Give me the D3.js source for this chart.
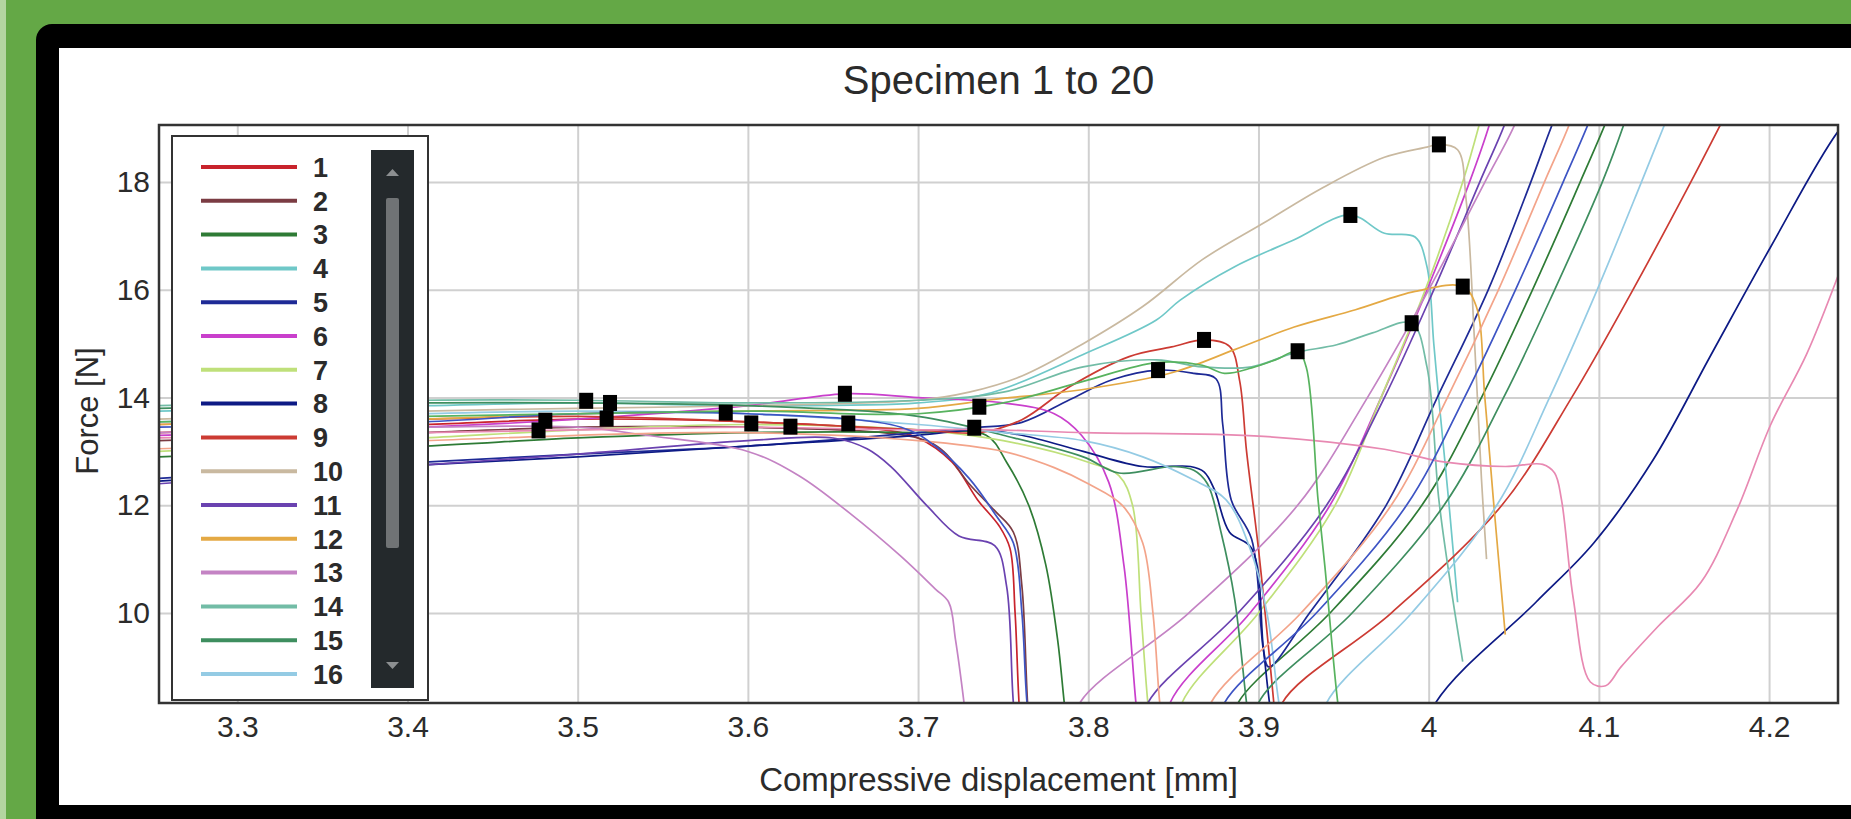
<!DOCTYPE html>
<html>
<head>
<meta charset="utf-8">
<script src="https://cdn.jsdelivr.net/npm/d3@7"></script>
<style>
  body { margin: 0; background: #64a846; }
  svg { display: block; }
  text { font-family: "Liberation Sans", Arial, sans-serif; fill: #2b2b2b; }
</style>
</head>
<body>
<div id="vis"></div>
<script>
const FRAME_WIDTH = 1851;
const FRAME_HEIGHT = 819;
const PLOT = {left: 159, right: 1838, top: 125, bottom: 703};

// tick values + labels
const xTicks = [3.3, 3.4, 3.5, 3.6, 3.7, 3.8, 3.9, 4.0, 4.1, 4.2];
const xTickLabels = ["3.3", "3.4", "3.5", "3.6", "3.7", "3.8", "3.9", "4", "4.1", "4.2"];
const yTicks = [10, 12, 14, 16, 18];
const yTickLabels = ["10", "12", "14", "16", "18"];

const specimens = ["1","2","3","4","5","6","7","8","9","10","11","12","13","14","15","16","17","18","19","20"];
const lineColors = ["#c8232c","#7b3c43","#2e7b35","#6fc8c8","#1e2a96","#c93fcc","#bfe07a","#0d1a85","#cc3b33","#c9b9a0",
                    "#6a42b0","#e4a944","#c483c4","#72bca6","#3e8e5f","#94cbe4","#f3a48a","#e889b2","#3d54c4","#58b35f"];

// curves, [displacement mm, force N]
const s1 = [[3.254,13.35],[3.41,13.5],[3.5,13.6],[3.6,13.55],[3.68,13.4],[3.7,13.25],[3.72,12.8],[3.735,12.1],[3.748,11.6],[3.754,11.2],[3.757,10.0],[3.76,8.0],[3.764,7.0]];
const s2 = [[3.254,13.2],[3.41,13.35],[3.5,13.45],[3.6,13.45],[3.7,13.25],[3.715,13.0],[3.73,12.4],[3.745,11.9],[3.756,11.5],[3.761,10.5],[3.765,8.0],[3.769,7.0]];
const s3 = [[3.254,12.9],[3.41,13.1],[3.5,13.25],[3.6,13.35],[3.7,13.35],[3.74,13.3],[3.752,12.8],[3.765,12.0],[3.775,10.9],[3.782,9.5],[3.786,8.3],[3.79,7.2],[3.84,6.5],[3.885,7.8],[3.888,8.33],[3.942,10],[3.996,12],[4.031,14],[4.061,16],[4.089,18],[4.104,19.1],[4.11,19.6]];
const s4 = [[3.254,13.75],[3.41,13.85],[3.5,13.9],[3.6,13.85],[3.7,13.9],[3.743,14.09],[3.797,14.8],[3.84,15.44],[3.854,15.81],[3.886,16.43],[3.921,16.93],[3.954,17.39],[3.974,17.05],[3.992,16.98],[3.999,16.43],[4.003,15.0],[4.006,13.96],[4.012,12.0],[4.017,10.2]];
const s5 = [[3.254,12.5],[3.41,12.8],[3.5,12.95],[3.6,13.1],[3.7,13.35],[3.733,13.44],[3.761,13.54],[3.789,13.96],[3.814,14.33],[3.841,14.51],[3.862,14.45],[3.875,14.35],[3.879,13.5],[3.884,12.1],[3.896,11.37],[3.903,9.3],[3.906,9.0],[3.93,10.0],[3.975,12],[4.005,14],[4.035,16],[4.06,18],[4.073,19.1],[4.08,19.6]];
const s6 = [[3.254,13.3],[3.41,13.45],[3.5,13.6],[3.6,13.85],[3.657,14.07],[3.7,14.0],[3.75,13.9],[3.78,13.7],[3.796,13.3],[3.812,12.43],[3.821,10.87],[3.828,8.33],[3.832,7.2],[3.842,7.0],[3.848,8.33],[3.895,10],[3.942,12],[3.972,14],[3.999,16],[4.024,18],[4.036,19.1],[4.04,19.6]];
const s7 = [[3.254,13.0],[3.41,13.25],[3.5,13.4],[3.6,13.5],[3.7,13.4],[3.75,13.2],[3.8,12.8],[3.818,12.55],[3.826,12.0],[3.831,10.0],[3.835,8.33],[3.839,7.2],[3.85,7.3],[3.855,8.33],[3.9,10],[3.945,12],[3.972,14],[3.998,16],[4.02,18],[4.03,19.1],[4.034,19.6]];
const s8 = [[3.254,12.45],[3.41,12.75],[3.5,12.9],[3.6,13.1],[3.7,13.3],[3.735,13.4],[3.761,13.3],[3.797,13.0],[3.832,12.72],[3.86,12.72],[3.868,12.62],[3.874,12.3],[3.883,11.5],[3.896,11.2],[3.903,9.3],[3.908,8.0],[3.915,7.0],[3.99,7.0],[4.004,8.33],[4.063,10.2],[4.097,11.3],[4.132,12.85],[4.166,14.8],[4.201,16.8],[4.241,18.96],[4.26,19.6]];
const s9 = [[3.254,13.5],[3.41,13.6],[3.5,13.65],[3.6,13.55],[3.7,13.4],[3.736,13.35],[3.761,13.59],[3.789,14.2],[3.824,14.76],[3.849,14.94],[3.868,15.07],[3.883,14.95],[3.889,14.3],[3.893,13.0],[3.9,11.19],[3.907,9.0],[3.91,8.0],[3.9115,7.6],[3.914,8.33],[3.978,10],[4.043,12],[4.084,14],[4.12,16],[4.154,18],[4.172,19.1],[4.18,19.6]];
const s10 = [[3.254,13.6],[3.41,13.75],[3.5,13.8],[3.6,13.85],[3.7,13.95],[3.73,14.1],[3.761,14.4],[3.797,15.0],[3.832,15.69],[3.867,16.56],[3.903,17.24],[3.938,17.9],[3.974,18.46],[3.999,18.65],[4.006,18.7],[4.017,18.6],[4.022,17.67],[4.027,15.0],[4.031,12.5],[4.034,11.0]];
const s11 = [[3.254,12.4],[3.41,12.75],[3.5,12.95],[3.6,13.2],[3.65,13.25],[3.67,13.05],[3.684,12.72],[3.705,12.0],[3.724,11.43],[3.745,11.25],[3.752,10.5],[3.756,8.33],[3.76,7.2],[3.8,6.5],[3.83,7.6],[3.835,8.33],[3.888,10],[3.94,12],[3.974,14],[4.003,16],[4.03,18],[4.045,19.1],[4.05,19.6]];
const s12 = [[3.254,13.5],[3.41,13.6],[3.5,13.7],[3.6,13.75],[3.7,13.8],[3.743,13.96],[3.797,14.15],[3.849,14.46],[3.886,14.89],[3.921,15.31],[3.957,15.63],[3.992,15.97],[4.02,16.06],[4.028,15.69],[4.033,14.0],[4.038,12.11],[4.045,9.6]];
const s13 = [[3.254,13.35],[3.41,13.45],[3.5,13.45],[3.54,13.3],[3.6,13.0],[3.63,12.55],[3.66,11.85],[3.69,11.05],[3.71,10.45],[3.718,10.2],[3.722,9.5],[3.727,8.33],[3.731,7.2],[3.77,6.5],[3.79,7.6],[3.795,8.33],[3.859,10],[3.923,12],[3.964,14],[4.0,16],[4.033,18],[4.051,19.1],[4.056,19.6]];
const s14 = [[3.254,13.85],[3.41,13.95],[3.5,13.95],[3.6,13.9],[3.7,13.95],[3.75,14.1],[3.797,14.57],[3.84,14.7],[3.867,14.57],[3.896,14.57],[3.921,14.83],[3.946,14.98],[3.967,15.2],[3.99,15.38],[3.999,14.57],[4.006,12.1],[4.013,10.5],[4.02,9.1]];
const s15 = [[3.254,13.8],[3.41,13.9],[3.5,13.9],[3.6,13.85],[3.7,13.65],[3.75,13.3],[3.797,12.9],[3.818,12.6],[3.85,12.72],[3.862,12.65],[3.87,12.4],[3.878,11.5],[3.886,10.26],[3.893,8.33],[3.8965,7.5],[3.9,8.33],[3.955,10],[4.009,12],[4.044,14],[4.074,16],[4.102,18],[4.115,19.1],[4.12,19.6]];
const s16 = [[3.254,13.55],[3.41,13.7],[3.5,13.75],[3.6,13.7],[3.7,13.5],[3.75,13.35],[3.797,13.2],[3.832,12.9],[3.86,12.5],[3.881,12.1],[3.895,11.2],[3.905,10.0],[3.912,8.33],[3.918,7.3],[3.935,7.5],[3.94,8.33],[3.99,10],[4.04,12],[4.071,14],[4.099,16],[4.125,18],[4.139,19.1],[4.145,19.6]];
const s17 = [[3.254,13.05],[3.41,13.2],[3.5,13.3],[3.6,13.35],[3.7,13.2],[3.75,13.0],[3.78,12.7],[3.8,12.4],[3.82,12.0],[3.832,11.3],[3.838,10.0],[3.842,8.33],[3.846,7.3],[3.866,7.4],[3.872,8.33],[3.925,10],[3.978,12],[4.011,14],[4.041,16],[4.068,18],[4.083,19.1],[4.088,19.6]];
const s18 = [[3.254,13.25],[3.41,13.35],[3.5,13.4],[3.6,13.45],[3.7,13.4],[3.732,13.41],[3.797,13.35],[3.903,13.28],[3.974,13.04],[4.01,12.8],[4.045,12.72],[4.067,12.76],[4.074,12.6],[4.078,12.11],[4.085,10.26],[4.095,8.72],[4.104,8.65],[4.113,9.0],[4.135,9.76],[4.16,10.57],[4.181,11.9],[4.201,13.5],[4.222,14.8],[4.241,16.3]];
const s19 = [[3.254,13.45],[3.41,13.55],[3.5,13.7],[3.6,13.7],[3.69,13.45],[3.71,13.1],[3.73,12.5],[3.746,11.8],[3.756,11.3],[3.761,10.0],[3.764,8.33],[3.768,7.3],[3.85,6.8],[3.875,7.6],[3.88,8.33],[3.934,10],[3.987,12],[4.021,14],[4.051,16],[4.079,18],[4.094,19.1],[4.1,19.6]];
const s20 = [[3.254,13.55],[3.41,13.65],[3.5,13.7],[3.6,13.75],[3.7,13.7],[3.75,13.9],[3.797,14.3],[3.84,14.65],[3.867,14.6],[3.88,14.45],[3.896,14.55],[3.91,14.7],[3.923,14.86],[3.928,14.57],[3.935,12.1],[3.939,10.87],[3.946,8.5],[3.95,7.5]];
const curves = [s1,s2,s3,s4,s5,s6,s7,s8,s9,s10,s11,s12,s13,s14,s15,s16,s17,s18,s19,s20];

// black square markers
const markerX = [3.477,3.481,3.505,3.519,3.517,3.587,3.602,3.625,3.657,3.659,3.736,3.733,3.841,3.868,3.923,3.954,3.990,4.006,4.020];
const markerY = [13.39,13.57,13.94,13.90,13.61,13.72,13.52,13.46,14.07,13.52,13.83,13.44,14.51,15.07,14.86,17.39,15.38,18.70,16.06];

const legendCount = 16;

const svg = d3.select("#vis")
  .append("svg")
    .attr("width", FRAME_WIDTH)
    .attr("height", FRAME_HEIGHT);

// page frame: green, black rounded box, white panel
svg.append("rect").attr("x", 0).attr("y", 0).attr("width", FRAME_WIDTH).attr("height", FRAME_HEIGHT).attr("fill", "#64a846");
svg.append("rect").attr("x", 0).attr("y", 0).attr("width", 6).attr("height", FRAME_HEIGHT).attr("fill", "#b3d5a0");
svg.append("rect").attr("x", 36).attr("y", 24).attr("width", 1900).attr("height", 900).attr("rx", 16).attr("fill", "#000");
svg.append("rect").attr("x", 59).attr("y", 48).attr("width", 1800).attr("height", 757).attr("fill", "#fff");

const X_SCALE = d3.scaleLinear().domain([3.254, 4.2405]).range([PLOT.left, PLOT.right]);
const Y_SCALE = d3.scaleLinear().domain([8.33, 19.06]).range([PLOT.bottom, PLOT.top]);

// grid
svg.append("g")
  .attr("transform", "translate(0," + PLOT.bottom + ")")
  .call(d3.axisBottom(X_SCALE).tickValues(xTicks).tickSize(-(PLOT.bottom - PLOT.top)).tickFormat(""))
  .call(g => g.select(".domain").remove())
  .selectAll("line").attr("stroke", "#d0d0d0").attr("stroke-width", 2);
svg.append("g")
  .attr("transform", "translate(" + PLOT.left + ",0)")
  .call(d3.axisLeft(Y_SCALE).tickValues(yTicks).tickSize(-(PLOT.right - PLOT.left)).tickFormat(""))
  .call(g => g.select(".domain").remove())
  .selectAll("line").attr("stroke", "#d0d0d0").attr("stroke-width", 2);

// curves
svg.append("clipPath").attr("id", "clip")
  .append("rect").attr("x", PLOT.left).attr("y", PLOT.top)
  .attr("width", PLOT.right - PLOT.left).attr("height", PLOT.bottom - PLOT.top);

const line = d3.line()
  .x(d => X_SCALE(d[0]))
  .y(d => Y_SCALE(d[1]))
  .curve(d3.curveCatmullRom.alpha(0.5));

const plotG = svg.append("g").attr("clip-path", "url(#clip)");
plotG.selectAll(".curve")
  .data(curves)
  .enter()
  .append("path")
    .attr("class", "curve")
    .attr("d", d => line(d))
    .attr("fill", "none")
    .attr("stroke", (d, i) => lineColors[i])
    .attr("stroke-width", 1.7);

plotG.selectAll(".mark")
  .data(markerX)
  .enter()
  .append("rect")
    .attr("class", "mark")
    .attr("x", (d) => X_SCALE(d) - 7)
    .attr("y", (d, i) => Y_SCALE(markerY[i]) - 8)
    .attr("width", 14)
    .attr("height", 16)
    .attr("fill", "#000");

// plot frame
svg.append("rect")
  .attr("x", PLOT.left).attr("y", PLOT.top)
  .attr("width", PLOT.right - PLOT.left).attr("height", PLOT.bottom - PLOT.top)
  .attr("fill", "none").attr("stroke", "#333").attr("stroke-width", 2.5);

// axes labels
const xAxis = svg.append("g")
  .attr("transform", "translate(0," + PLOT.bottom + ")")
  .call(d3.axisBottom(X_SCALE).tickValues(xTicks).tickSize(0).tickPadding(13)
        .tickFormat((d, i) => xTickLabels[i]));
xAxis.select(".domain").remove();
xAxis.selectAll("text").attr("font-size", "30px").attr("fill", "#2b2b2b");

const yAxis = svg.append("g")
  .attr("transform", "translate(" + PLOT.left + ",0)")
  .call(d3.axisLeft(Y_SCALE).tickValues(yTicks).tickSize(0).tickPadding(9)
        .tickFormat((d, i) => yTickLabels[i]));
yAxis.select(".domain").remove();
yAxis.selectAll("text").attr("font-size", "30px").attr("fill", "#2b2b2b");

// titles
svg.append("text")
  .attr("x", (PLOT.left + PLOT.right) / 2).attr("y", 94)
  .attr("text-anchor", "middle").attr("font-size", "40px")
  .text("Specimen 1 to 20");
svg.append("text")
  .attr("x", (PLOT.left + PLOT.right) / 2).attr("y", 791)
  .attr("text-anchor", "middle").attr("font-size", "33px")
  .text("Compressive displacement [mm]");
svg.append("text")
  .attr("transform", "translate(98,411) rotate(-90)")
  .attr("text-anchor", "middle").attr("font-size", "31px")
  .text("Force [N]");

// legend box
const legend = svg.append("g");
legend.append("rect")
  .attr("x", 172).attr("y", 136).attr("width", 256).attr("height", 564)
  .attr("fill", "#fff").attr("stroke", "#333").attr("stroke-width", 2);

const rowY = d3.scaleLinear().domain([0, legendCount - 1]).range([167, 674]);
const rows = legend.selectAll(".row")
  .data(specimens.slice(0, legendCount))
  .enter()
  .append("g")
    .attr("class", "row")
    .attr("transform", (d, i) => "translate(0," + rowY(i) + ")");
rows.append("line")
  .attr("x1", 201).attr("x2", 297)
  .attr("stroke", (d, i) => lineColors[i])
  .attr("stroke-width", 4);
rows.append("text")
  .attr("x", 313).attr("dy", "0.36em")
  .attr("font-size", "27px").attr("font-weight", "bold")
  .attr("fill", "#1a1a1a")
  .text(d => d);

// scrollbar
legend.append("rect").attr("x", 371).attr("y", 150).attr("width", 43).attr("height", 538).attr("fill", "#24292c");
legend.append("rect").attr("x", 386).attr("y", 198).attr("width", 13).attr("height", 350).attr("rx", 2).attr("fill", "#707375");
legend.append("path").attr("d", "M386,176 L392.5,169 L399,176 Z").attr("fill", "#8c8f91");
legend.append("path").attr("d", "M386,662 L392.5,669 L399,662 Z").attr("fill", "#8c8f91");
</script>
</body>
</html>
